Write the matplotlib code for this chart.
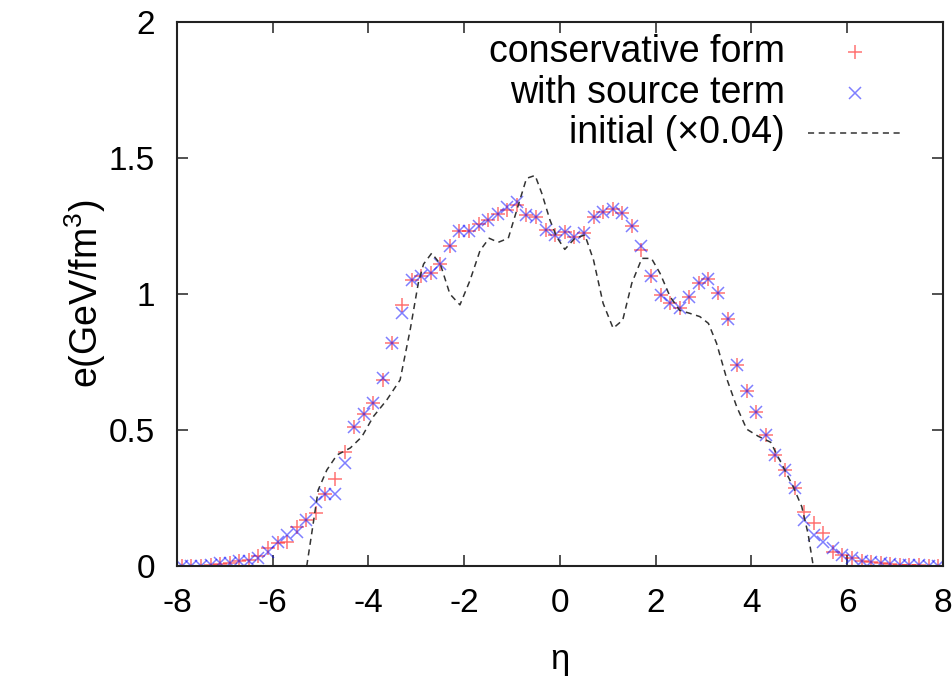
import numpy as np
import matplotlib
matplotlib.use("Agg")
import matplotlib.pyplot as plt
from matplotlib.lines import Line2D

plt.rcParams['font.family'] = ['Liberation Sans', 'DejaVu Sans']
plt.rcParams['mathtext.fontset'] = 'custom'
plt.rcParams['mathtext.rm'] = 'Liberation Sans'
plt.rcParams['mathtext.it'] = 'Liberation Sans'
plt.rcParams['axes.unicode_minus'] = False

# energy density on the eta grid (step 0.2, cell centres)
eta = np.round(np.arange(-7.9, 7.95, 0.2), 2)

e_conservative = [
    0.0, 0.0, 0.0, 0.003, 0.008, 0.010, 0.018, 0.022, 0.035, 0.066,
    0.086, 0.090, 0.145, 0.170, 0.196, 0.265, 0.320, 0.420, 0.512, 0.558,
    0.600, 0.684, 0.819, 0.960, 1.050, 1.066, 1.078, 1.110, 1.176, 1.230,
    1.230, 1.257, 1.272, 1.294, 1.310, 1.327, 1.290, 1.284, 1.235, 1.217,
    1.229, 1.208, 1.225, 1.282, 1.303, 1.311, 1.299, 1.250, 1.160, 1.067,
    0.996, 0.968, 0.947, 0.990, 1.042, 1.055, 1.003, 0.907, 0.739, 0.645,
    0.565, 0.483, 0.408, 0.353, 0.286, 0.200, 0.157, 0.120, 0.053, 0.040,
    0.028, 0.020, 0.015, 0.010, 0.008, 0.005, 0.003, 0.002, 0.0, 0.0,
]

e_source = [
    0.0, 0.0, 0.0, 0.004, 0.010, 0.012, 0.020, 0.020, 0.030, 0.050,
    0.090, 0.114, 0.126, 0.170, 0.236, 0.265, 0.265, 0.380, 0.512, 0.558,
    0.600, 0.690, 0.819, 0.929, 1.050, 1.066, 1.078, 1.110, 1.176, 1.230,
    1.230, 1.250, 1.272, 1.294, 1.320, 1.340, 1.290, 1.284, 1.235, 1.217,
    1.229, 1.208, 1.225, 1.282, 1.303, 1.311, 1.299, 1.250, 1.176, 1.067,
    0.996, 0.968, 0.947, 0.990, 1.042, 1.055, 1.003, 0.907, 0.739, 0.645,
    0.565, 0.483, 0.408, 0.353, 0.286, 0.169, 0.114, 0.090, 0.065, 0.040,
    0.028, 0.020, 0.015, 0.010, 0.008, 0.005, 0.003, 0.002, 0.0, 0.0,
]

# initial profile, already scaled by 0.04
eta_init = [
    -5.29, -5.16, -5.05, -4.87, -4.66, -4.38, -4.14, -3.90, -3.62, -3.34,
    -3.13, -2.96, -2.85, -2.68, -2.50, -2.30, -2.09, -1.88, -1.67, -1.48,
    -1.29, -1.08, -0.90, -0.70, -0.52, -0.38, -0.21, -0.07, 0.10, 0.31,
    0.52, 0.70, 0.90, 1.11, 1.31, 1.50, 1.71, 1.91, 2.09, 2.30,
    2.50, 2.71, 2.92, 3.10, 3.27, 3.48, 3.69, 3.90, 4.14, 4.40,
    4.66, 4.87, 5.05, 5.18, 5.29,
]
e_init = [
    0.0, 0.150, 0.280, 0.353, 0.408, 0.434, 0.475, 0.549, 0.610, 0.684,
    0.868, 1.040, 1.110, 1.150, 1.110, 1.000, 0.960, 1.050, 1.160, 1.205,
    1.190, 1.205, 1.310, 1.425, 1.436, 1.370, 1.272, 1.210, 1.164, 1.205,
    1.217, 1.125, 0.966, 0.874, 0.904, 1.040, 1.131, 1.131, 1.076, 0.990,
    0.940, 0.929, 0.917, 0.892, 0.819, 0.690, 0.586, 0.503, 0.477, 0.455,
    0.365, 0.292, 0.218, 0.120, 0.0,
]

labels = ["conservative form", "with source term", "initial (\u00d70.04)"]

red = (1.0, 0.0, 0.0, 0.55)
blue = (0.0, 0.0, 1.0, 0.5)
dash_col = '#333333'

fig = plt.figure(figsize=(9.53, 6.76), dpi=100)
ax = fig.add_axes([177 / 953, 1 - 566 / 676, 766 / 953, 544 / 676])

ax.plot(eta, e_conservative, ls='none', marker='+', ms=10, mew=1.1, color=red)
ax.plot(eta, e_source, ls='none', marker='x', ms=8.5, mew=1.1, color=blue)
ax.plot(eta_init, e_init, color=dash_col, lw=1.1, dashes=(4, 3))

ax.set_xlim(-8, 8)
ax.set_ylim(0, 2)
ax.set_xticks(np.arange(-8, 9, 2))
ax.set_yticks([0, 0.5, 1, 1.5, 2])
ax.set_yticklabels(['0', '0.5', '1', '1.5', '2'])
ax.tick_params(direction='in', length=8, width=1.2, top=True, right=True,
               labelsize=24, color='#333333')
ax.tick_params(axis='x', pad=16)
ax.tick_params(axis='y', pad=16)
for sp in ax.spines.values():
    sp.set_linewidth(1.5)
    sp.set_color('#222222')

fig.text(85 / 953, 1 - 294 / 676, 'e(GeV/fm$^3$)', rotation=90,
         ha='center', va='center', fontsize=27)
fig.text(560 / 953, 1 - 660 / 676, '\u03b7', ha='center', va='center', fontsize=25)

# gnuplot-style key: right aligned text with the sample after it
row_y = [1 - (52 - 22) / 544, 1 - (93 - 22) / 544, 1 - (133 - 22) / 544]
text_x = (785 - 177) / 766
for ty, lab in zip(row_y, labels):
    ax.text(text_x, ty, lab, transform=ax.transAxes, ha='right', va='center',
            fontsize=27)
mx = (855 - 177) / 766
ax.add_line(Line2D([mx], [row_y[0]], transform=ax.transAxes, ls='none',
                   marker='+', ms=10, mew=1.1, color=red))
ax.add_line(Line2D([mx], [row_y[1]], transform=ax.transAxes, ls='none',
                   marker='x', ms=8.5, mew=1.1, color=blue))
ax.add_line(Line2D([(808 - 177) / 766, (902 - 177) / 766], [row_y[2]] * 2,
                   transform=ax.transAxes, color=dash_col, lw=1.1, dashes=(4, 3)))

fig.savefig('out.png', dpi=100)
